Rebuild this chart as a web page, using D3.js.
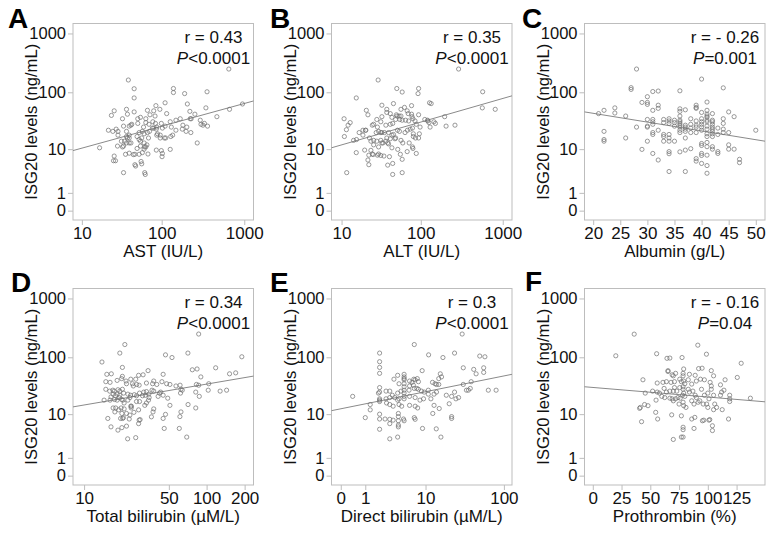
<!DOCTYPE html>
<html><head><meta charset="utf-8">
<script src="https://cdn.jsdelivr.net/npm/d3@7"></script>
<style>
html,body{margin:0;padding:0;background:#fff;}
text{font-family:"Liberation Sans",Arial,Helvetica,sans-serif;}
</style></head>
<body><svg id="chart" width="774" height="535"></svg>
<script>
// ---------- data (x value, ISG20 ng/mL) ----------
const astData = [[651,249],[39,162],[46,115],[46,80],[139,116],[139,99],[355,102],[190,95],[952,63],[664,51],[110,66],[85,59],[344,54],[205,63],[26,48],[24,40],[37,51],[38,42],[46,46],[67,49],[80,48],[95,51],[72,41],[115,43],[83,39],[220,47],[253,42],[467,38],[222,35],[168,35],[149,33],[51,35],[55,37],[64,35],[33,35],[294,33],[317,27],[330,29],[360,26],[300,28],[181,27],[178,23],[198,21],[226,20],[22,22],[27.5,23],[29,21],[34,26],[40,26],[42,27],[43,28],[51,29],[64,30],[70,28],[78,31],[84,29],[86,23],[87,25],[77,24],[99,29],[102,24],[110,26],[127,31],[131,25],[60,25],[58,21],[53,20],[61,19],[67,20],[71,21],[89,19],[96,18],[108,16],[96,16],[87,18],[136,18],[129,17],[149,22],[25,21],[29,18],[37,17],[38,16],[40,18],[42,13],[40,16],[40,13],[37,13],[50,17],[53,15],[55,14],[57,16],[61,13],[64,11],[66,12],[112,16],[35,14],[32,14],[33,11],[17,10.6],[26,7.4],[36,8],[40,8.4],[45,7.9],[47,8],[53,8],[58,8.6],[68,8.1],[61,10],[99,9.4],[102,8.3],[101,7.2],[127,9.9],[86,9.6],[55,11.4],[62,11],[270,13],[25.5,6],[27,6],[47,5],[48,4.7],[56,5.8],[57,5.2],[34,3.4],[62,3.4],[63,3.1],[28.6,11.4],[34,11.4],[50,10.3],[37,21],[69,16],[80,24],[202,25],[228,35]];
const altData = [[290,249],[29.6,162],[50.6,116],[94,116],[92.5,95],[59,101],[15.6,80],[570,102],[564,54],[810,51],[128,66],[134,64],[33,60],[46,64],[63,55],[77,59],[57,51],[68,48],[21,49],[22,41],[38,51],[38,45],[50,41],[51,39],[54,39],[57,39],[44,37],[42,43],[70,43],[77,42],[94,41],[78,38],[10.8,35],[12.2,27],[13,30],[11.6,22.5],[28.5,34],[33,38],[25,27],[26,28],[32,31],[37,27],[42,28],[45,29],[49,34],[55,34],[59,33],[65,33],[71,32],[80,35],[85,32],[112,34],[121,33],[122,32],[126,30],[145,31],[151,29],[130,25],[98,25],[196,38],[204,26],[262,27],[20.5,22],[20.7,22],[19,22],[17,20],[19,18],[29,25],[30,21],[32,20],[35.5,20],[40,20],[44,18],[46,18.5],[33,20],[28,20],[51.6,22],[54.6,21],[64,20],[68.5,22],[74,23],[79,24],[88,28],[81,19],[81,17],[86,16],[96,19],[94,16],[10.9,17],[15.7,15],[14.4,14.5],[23,16],[24,14],[26,14.5],[28.5,14],[32,14.5],[33,13],[34,13],[37,14],[39,13],[40,12.5],[42,15.5],[48,15.5],[49,16],[57,14.5],[72,13],[60,13],[79,11],[80,10.3],[15.6,8.6],[20,9.6],[24,9.5],[25,8.1],[25.6,7.9],[29,7.7],[30,8.1],[32,7.6],[22.6,7.7],[35,7.4],[41,7.2],[44,10.6],[52,9.9],[56,8],[59,6.4],[68,9],[88,8.3],[22,6.2],[22.6,5],[39,4.9],[45,5.3],[11.7,3.4],[45,3.1],[59,3.4],[30,11],[26,12],[38,16]];
const albuminData = [[28,249],[40,168],[27,120],[27,112],[44,119],[36,106],[31,103],[32,105],[30,84],[29,67],[30,67],[30,62],[32,60],[32,53],[24,54],[24,44],[22,49],[21,43],[26,39],[31,49],[41,68],[39,60],[36,52],[36,47],[36,39],[37,50],[39,55],[39,53],[40,45],[41,49],[41,39],[41,42],[42,43],[42,33],[45,46],[46,38],[44,35],[44,29],[30,34],[30,26],[30,25],[31,34],[31,31],[31,28],[33,34],[33,30],[34,35],[34,32],[34,29],[35,33],[35,30],[35,26],[36,33],[36,31],[36,29],[36,27],[36,25],[36,22],[36,20],[37,27],[37,25],[37,23],[37,21],[37,16],[38,35],[38,28],[38,24],[38,20],[39,32],[39,27],[39,25],[39,20],[40,35],[40,31],[40,28],[40,25],[40,22],[41,37],[41,33],[41,31],[41,26],[41,23],[41,19],[41,17],[42,31],[42,28],[42,25],[42,23],[42,21],[42,19],[42,17],[43,24],[43,18.5],[44,23],[44,20],[45,20],[50,22],[28,25],[31,20],[31,18.5],[32,22],[33,18.5],[33,17],[33,14],[34,18.5],[34,16],[34,14],[35,14],[30,14],[22,21],[22,15],[22,14],[26,16],[45,12],[45,10],[46,10],[47,6.4],[47,5.5],[29,9.9],[31,8.3],[32,6.2],[34,9],[34,8.2],[36,8.9],[37,9.6],[38,10.2],[39,6.6],[40,8.3],[40,7.6],[40,12.7],[40,11.7],[41,13.3],[41,11.1],[41,7.7],[42,11.1],[42,10],[43,9],[43,8.3],[39,5.9],[40,5.3],[41,4.8],[34,3.6],[37,3.6],[41,3.3]];
const tbilData = [[86.5,249],[22,165],[20,118],[47,110],[53,99],[71,118],[190,102],[14.2,83],[21,67],[15.6,51],[17,52],[34,59],[45,51],[84,63],[77,61],[118,66],[152,52],[170,54],[90,46],[24.6,42],[27,42],[31,50],[28.5,49],[21,47],[20.7,43],[22.5,39],[19,40],[16.6,37],[15.3,38],[22.7,35],[25.4,35],[25.8,32],[27.5,34],[28.8,33],[33,36],[37.8,39],[37,35],[40,34],[44,38],[48,35],[51,34],[57,32],[61.5,33],[62.5,28],[83,34],[86.5,33],[104,35],[128,26],[144,27],[103,27],[82,25],[87.5,21],[62,24],[64,27],[43,25],[42,24],[41,21],[45,22],[49,19.5],[15.3,28],[16.5,26],[17.5,27],[18,26],[19.3,27.5],[20,26],[21,28],[17.6,23],[18.4,21.5],[19,23],[20,22],[21.5,24],[23.3,23],[24.5,22],[26.3,22.5],[27.4,21.5],[29,24],[31.4,25],[32.3,22],[33,25.5],[34.5,23],[34.7,20],[36.6,27],[37.8,26],[14.8,18],[16.6,18],[16.9,20.5],[18.1,18.5],[19,18],[19.8,20],[20.7,18.5],[21.2,18],[21.7,16],[23.3,18],[24.2,20],[24.9,14],[27.4,17],[29,17],[30.7,21.5],[32,14.5],[33,16],[34.3,18],[37.3,11],[37.8,12.5],[20.5,13],[21.7,12.5],[18.5,13],[19.6,12],[20.8,10.3],[22.7,10.3],[24.6,14],[24.8,13],[26.1,10.8],[28.5,12],[17.6,13],[18.2,11],[15.9,8.3],[20.3,8.3],[21.1,8.3],[21.4,8.6],[23.9,8.1],[24.2,9.6],[29.3,7.9],[28.8,7.7],[36.2,8.9],[47,9.9],[45,8.3],[61.3,9],[62.5,11],[71.2,15],[51,14.5],[82,13],[16.9,5.7],[19.3,4.9],[22.7,5.9],[20.8,5.5],[28.5,6.6],[45.9,5.3],[60.6,5.3],[23.2,3.2],[27,3.4],[69.5,3.5]];
const dbilData = [[30,249],[7,165],[2,118],[2,84],[2,67],[2,53],[11,110],[24,118],[17,99],[50,105],[58,102],[31,66],[56,66],[56,55],[42,62],[45,52],[9,59],[15.7,52],[16.3,46],[15,43],[4,49],[5,51],[5,46],[5,43],[5,41],[6.9,42],[7.2,41],[7.7,43],[8,38],[6.5,37],[2,30],[2,25],[1.9,24],[2.6,26],[3,26],[3.3,22],[3.5,42],[4.2,35],[4.5,26],[4,24],[5,35],[5,31],[5,27],[5,24],[5,21],[5,19],[6,39],[6,32],[5.9,27],[6.8,33],[7,29],[7.6,29],[8,28],[8.8,26],[9.6,25],[10.9,27],[12.4,37],[13.4,35],[14,34],[15,34],[14,25],[13,23],[18.8,22],[22,21],[24,25],[27,20],[25,19],[31,34],[36,27],[39,38],[34,27],[38,29],[64,27],[80,27],[2,19],[2,18],[2.6,19],[3,20],[3.6,20],[4,18],[4.2,19],[6,21],[7.2,20],[8.4,18],[9.4,19],[10.9,23],[11.8,19],[2,17],[1.3,15],[0.4,21],[1,8.6],[1.3,12],[2.65,16],[3,15],[3.4,14],[4.2,15],[4.6,14],[6,14.5],[7.2,14],[7.8,13],[12.5,10.3],[13,14.5],[15.2,12.7],[20.5,15.5],[22,9],[22,8.3],[2,10],[2,8.1],[2.5,8.1],[3,8],[3.4,7.7],[4.1,10.3],[4.1,9],[4.1,7.5],[4.9,8.1],[5,7.5],[7,8.6],[7.2,8],[2,5.1],[3,6.6],[4.1,6.2],[4.1,5.7],[9.1,5.3],[13.9,5.2],[3,3.2],[4,3.5],[16,3.5]];
const ptData = [[36,248],[20,106],[55.5,115],[64.5,96],[67,97],[77.6,99],[91.3,161],[98.8,113],[92,64],[95,65],[103,59],[105,48],[129,79],[125.6,45],[115,41],[43.6,41],[45.6,24],[65.4,59],[65.4,57],[69,50],[70,48],[72,53],[78.5,53],[78.5,48],[79,63],[84,51],[89,49],[56,36],[61,37],[64,38],[68,37],[71,38],[75.6,42],[77,38],[79,39],[80,35],[83,41],[86,34.5],[90,39],[93.6,42],[97,41],[102,37],[103,32],[111,33.5],[56,25],[58,24],[62,29],[64,25],[67,26],[70,26],[71,30],[73,26],[75.6,30],[78.5,31],[78.5,28],[79,24],[78,22],[80,21],[83,28],[84,25],[87,26],[89,22],[90,20],[94.5,28],[97,22],[100,24],[101,19],[103,28],[105,22],[106,15.3],[111,22],[112,25],[114,27],[119,22],[119,19],[119,17],[137,19.5],[52,26],[60,21],[62.5,20],[45,15],[48,14.3],[55,18],[67,19.5],[69,19],[70,17.5],[72,19],[74,20],[76,19.5],[75,15.3],[78.5,16.5],[79,14.3],[81,13.3],[86,17.5],[88,15.3],[91.6,16.5],[93,17.5],[96,15.3],[99,15.3],[100,13.3],[107.6,13.3],[112.5,12.1],[105,12.1],[41.3,13.3],[40.7,12.8],[42.4,7.2],[54.7,10.8],[56.4,8.1],[68.6,9.7],[77,9.3],[86,8.1],[88.7,8.7],[95.3,7.5],[96.5,7.7],[101,7.7],[101.7,7.9],[118,8.1],[104,6],[104,4.8],[78.5,5.6],[78.5,5],[88,5.3],[70,3.1],[77,3.5],[78.5,3.5]];

// regression line end points [x, y]
const astFit = [[7.6,9.4],[1293,71]];
const altFit = [[7.3,10.6],[1296,87]];
const albuminFit = [[18.4,46],[51.7,14]];
const tbilFit = [[8.0,13.6],[235,47.5]];
const dbilFit = [[-0.3,11.6],[126,51]];
const ptFit = [[-7.2,31],[149.7,16.8]];

// tick labels
const yTicks = [0,1,10,100,1000];
const astTicks = [10,100,1000];
const altTicks = [10,100,1000];
const albuminTicks = [20,25,30,35,40,45,50];
const tbilTicks = [10,50,100,200];
const dbilTicks = [0,1,10,100];
const ptTicks = [0,25,50,75,100,125];

const letters = ["A","B","C","D","E","F"];
const xTitles = ["AST (IU/L)","ALT (IU/L)","Albumin (g/L)","Total bilirubin (\u00B5M/L)","Direct bilirubin (\u00B5M/L)","Prothrombin (%)"];
const rTexts = ["r = 0.43","r = 0.35","r = - 0.26","r = 0.34","r = 0.3","r = - 0.16"];
const pTexts = ["<0.0001","<0.0001","=0.001","<0.0001","<0.0001","=0.04"];
const yTitle = "ISG20 levels (ng/mL)";

// ---------- layout ----------
const svg = d3.select("#chart");
const colLeft = [73, 331.5, 584.5];
const rowTop = [23.5, 288.5];
const W = 180.5, H = 196.5;
const boxColor = "#bdbdbd";
const markColor = "#6e6e6e";

const panels = [
  {data: astData, fit: astFit, ticks: astTicks, scale: "symlog", dom: [7.6,1293]},
  {data: altData, fit: altFit, ticks: altTicks, scale: "symlog", dom: [7.3,1296]},
  {data: albuminData, fit: albuminFit, ticks: albuminTicks, scale: "linear", dom: [18.4,51.7]},
  {data: tbilData, fit: tbilFit, ticks: tbilTicks, scale: "symlog", dom: [8.0,235]},
  {data: dbilData, fit: dbilFit, ticks: dbilTicks, scale: "symlog", dom: [-0.3,126]},
  {data: ptData, fit: ptFit, ticks: ptTicks, scale: "linear", dom: [-7.2,149.7]}
];

const letterPos = [[8,28],[270,28],[522,28],[11,292],[270,292],[525,291]];

panels.forEach((p, i) => {
  const col = i % 3, row = Math.floor(i / 3);
  const L = colLeft[col], T = rowTop[row];
  const x = (p.scale === "symlog" ? d3.scaleSymlog().constant(1) : d3.scaleLinear())
      .domain(p.dom).range([L, L + W]);
  const y = d3.scaleSymlog().constant(1).domain([-0.44, 1475]).range([T + H, T]);

  const g = svg.append("g");

  // box
  g.append("rect").attr("x", L).attr("y", T).attr("width", W).attr("height", H)
    .attr("fill", "none").attr("stroke", boxColor).attr("stroke-width", 1);

  // x axis
  const xa = g.append("g").attr("transform", `translate(0,${T + H})`)
    .call(d3.axisBottom(x).tickValues(p.ticks).tickSize(5).tickPadding(2).tickFormat(d3.format("d")));
  xa.select(".domain").remove();
  xa.selectAll(".tick line").attr("stroke", boxColor);
  xa.selectAll(".tick text").attr("fill", "#111").style("font-size", "17px")
    .style("font-family", '"Liberation Sans",Arial,sans-serif');

  // y axis
  const ya = g.append("g").attr("transform", `translate(${L},0)`)
    .call(d3.axisLeft(y).tickValues(yTicks).tickSize(5).tickPadding(2).tickFormat(d3.format("d")));
  ya.select(".domain").remove();
  ya.selectAll(".tick line").attr("stroke", boxColor);
  ya.selectAll(".tick text").attr("fill", "#111").style("font-size", "16.5px")
    .style("font-family", '"Liberation Sans",Arial,sans-serif');

  // regression line
  g.append("path").datum(p.fit)
    .attr("d", d3.line().x(d => x(d[0])).y(d => y(d[1])))
    .attr("fill", "none").attr("stroke", "#8a8a8a").attr("stroke-width", 1);

  // points
  g.append("g").selectAll("circle").data(p.data).join("circle")
    .attr("cx", d => x(d[0])).attr("cy", d => y(d[1])).attr("r", 2.1)
    .attr("fill", "none").attr("stroke", markColor).attr("stroke-width", 0.7);

  // annotation
  const cx = L + W - 40;
  g.append("text").attr("x", cx).attr("y", T + 19.5).attr("text-anchor", "middle")
    .style("font-size", "17px").attr("fill", "#111").text(rTexts[i]);
  const pt = g.append("text").attr("x", cx).attr("y", T + 40).attr("text-anchor", "middle")
    .style("font-size", "17px").attr("fill", "#111");
  pt.append("tspan").style("font-style", "italic").text("P");
  pt.append("tspan").text(pTexts[i]);

  // x title
  g.append("text").attr("x", L + W / 2).attr("y", T + H + 37).attr("text-anchor", "middle")
    .style("font-size", "17px").attr("fill", "#111").text(xTitles[i]);

  // y title
  g.append("text").attr("transform", `translate(${L - 36},${T + H / 2}) rotate(-90)`)
    .attr("text-anchor", "middle").style("font-size", "16.6px").attr("fill", "#111").text(yTitle);

  // panel letter
  g.append("text").attr("x", letterPos[i][0]).attr("y", letterPos[i][1])
    .style("font-size", "28px").style("font-weight", "bold").attr("fill", "#000").text(letters[i]);
});
</script></body></html>
